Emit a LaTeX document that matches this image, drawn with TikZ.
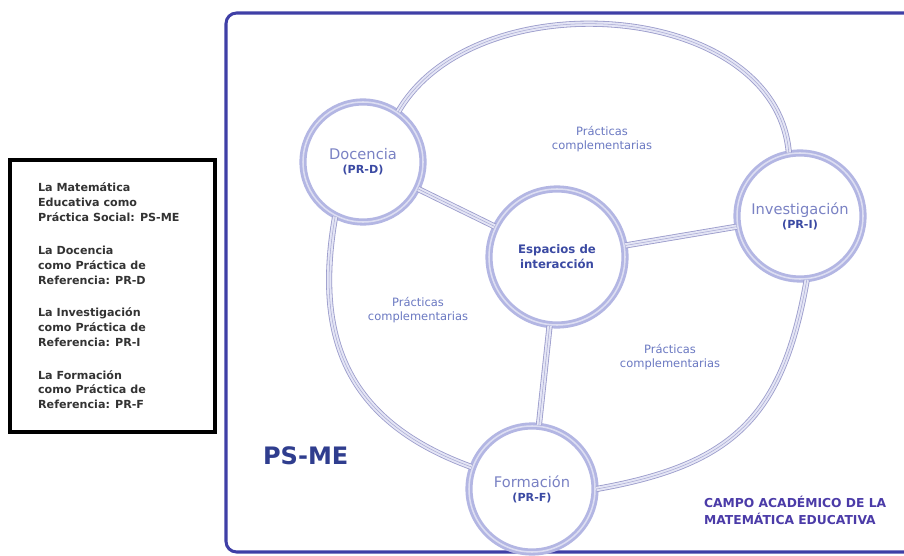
\documentclass[tikz,border=0pt]{standalone}
\usepackage{fontspec}
\setmainfont{DejaVu Sans}
\usetikzlibrary{positioning}

\definecolor{ringblue}{HTML}{B3B6E3}
\definecolor{linkgray}{HTML}{9A9BCB}
\definecolor{framblue}{HTML}{3F3FA6}
\definecolor{nameblue}{HTML}{7A82C4}
\definecolor{codeblue}{HTML}{3B4AA3}
\definecolor{pracblue}{HTML}{6B79C2}
\definecolor{psblue}{HTML}{2F3D8E}
\definecolor{campoblue}{HTML}{4B3BA8}
\definecolor{legendgray}{HTML}{333333}

\begin{document}
\begin{tikzpicture}[x=0.03cm, y=0.03cm,
    ring/.style={circle, draw=ringblue, line width=2.4pt, double=ringblue!45, double distance=1.3pt, fill=white, inner sep=0pt, align=center},
    link/.style={preaction={draw=linkgray, line width=0.7pt, double=ringblue!35, double distance=3.8pt}, draw=linkgray!85, line width=0.45pt},
    prac/.style={text=pracblue, align=center, font=\fontsize{9.8}{12.5}\selectfont}]
    \clip (0,0) rectangle (904,555);
    \fill[white] (0,0) rectangle (904,555);
    \draw[framblue, line width=2.6pt, rounded corners=9pt] (226,3) rectangle (930,542);

    \draw[black, line width=3.2pt] (10,123) rectangle (215,395);
    \node (legend) [anchor=west, text=legendgray, align=left, font=\bfseries\fontsize{9.5}{12.75}\selectfont] at (34,259)
        {La Matemática\\Educativa como\\Práctica Social: PS-ME\\[15pt]La Docencia\\como Práctica de\\Referencia: PR-D\\[15pt]La Investigación\\como Práctica de\\Referencia: PR-I\\[15pt]La Formación\\como Práctica de\\Referencia: PR-F};

    \node (doc) [ring, minimum size=3.6cm] at (363,393) {\textcolor{nameblue}{\fontsize{12.5}{15}\selectfont Docencia}\\\textcolor{codeblue}{\bfseries\fontsize{9.5}{11}\selectfont (PR-D)}};
    \node (esp) [ring, minimum size=4.08cm, text=codeblue, font=\bfseries\fontsize{10}{13}\selectfont] at (557,298) {Espacios de\\interacción};
    \node (inv) [ring, minimum size=3.78cm] at (800,339) {\textcolor{nameblue}{\fontsize{12.5}{15}\selectfont Investigación}\\\textcolor{codeblue}{\bfseries\fontsize{9.5}{11}\selectfont (PR-I)}};
    \node (form) [ring, minimum size=3.78cm] at (532,66) {\textcolor{nameblue}{\fontsize{12.5}{15}\selectfont Formación}\\\textcolor{codeblue}{\bfseries\fontsize{9.5}{11}\selectfont (PR-F)}};

    \draw[link] (doc) -- (esp);
    \draw[link] (esp) -- (inv);
    \draw[link] (esp) -- (form);
    \draw[link] (doc.55) to[out=60, in=95] (inv.100);
    \draw[link] (doc.-117) to[out=-100, in=160, looseness=1.15] (form.160);
    \draw[link] (inv.-84) to[out=-100, in=10, looseness=1.2] (form.0);

    \node (prac_top) [prac] at (602,416) {Prácticas\\complementarias};
    \node (prac_left) [prac] at (418,245) {Prácticas\\complementarias};
    \node (prac_right) [prac] at (670,198) {Prácticas\\complementarias};

    \node (ps_me) [anchor=west, text=psblue, font=\bfseries\fontsize{20.5}{22}\selectfont] at (259,99) {PS-ME};
    \node (campo) [anchor=west, text=campoblue, align=left, font=\bfseries\fontsize{10.5}{14.5}\selectfont] at (700,45) {CAMPO ACADÉMICO DE LA\\MATEMÁTICA EDUCATIVA};
\end{tikzpicture}
\end{document}
